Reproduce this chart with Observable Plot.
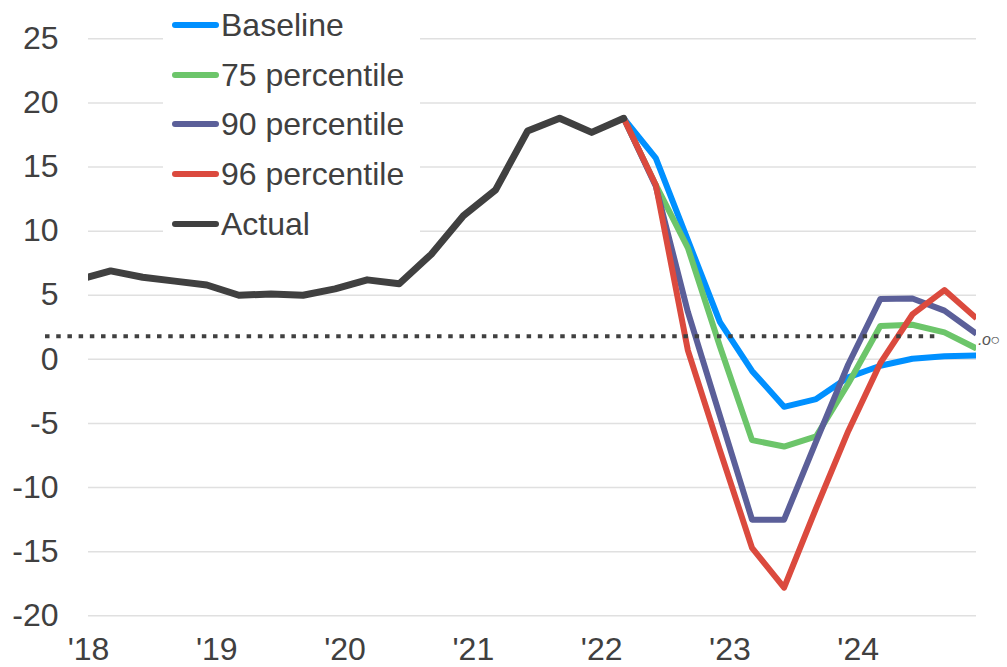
<!DOCTYPE html>
<html><head><meta charset="utf-8">
<script src="https://cdn.jsdelivr.net/npm/d3@7"></script>
<script src="https://cdn.jsdelivr.net/npm/@observablehq/plot@0.6"></script>
<style>
html,body{margin:0;padding:0;background:#fff;}
#wrap{position:relative;width:1007px;height:667px;font-family:"Liberation Sans",Arial,sans-serif;}
#wrap svg{position:absolute;left:0;top:0;}
#legend{position:absolute;left:163px;top:0;width:257px;height:246px;background:#fff;}
.item{position:absolute;left:9px;height:40px;display:flex;align-items:center;font-size:32px;color:#404040;white-space:nowrap;}
.sw{width:47px;height:6px;border-radius:3px;margin-right:2px;flex:none;}
#glyph{position:absolute;left:978px;top:331px;font-size:16px;line-height:18px;letter-spacing:-0.5px;color:#555;font-style:italic;white-space:nowrap;}
</style></head><body><div id="wrap"></div>
<script>
// ---- data ----
const actualQuarters = ["2017Q4","2018Q1","2018Q2","2018Q3","2018Q4","2019Q1","2019Q2","2019Q3","2019Q4",
  "2020Q1","2020Q2","2020Q3","2020Q4","2021Q1","2021Q2","2021Q3","2021Q4","2022Q1"];
const actualValues = [6.2, 6.9, 6.4, 6.1, 5.8, 5.0, 5.1, 5.0, 5.5, 6.2, 5.9, 8.2, 11.2, 13.2, 17.8, 18.8, 17.7, 18.8];

const forecastQuarters = ["2022Q1","2022Q2","2022Q3","2022Q4","2023Q1","2023Q2","2023Q3","2023Q4",
  "2024Q1","2024Q2","2024Q3","2024Q4"];
const baseline = [18.8, 15.7, 9.3, 2.9, -0.9, -3.7, -3.1, -1.4, -0.5, 0.05, 0.25, 0.3];
const pct75    = [18.8, 13.6, 8.7, 1.0, -6.3, -6.8, -6.0, -1.9, 2.6, 2.7, 2.1, 0.85];
const pct90    = [18.8, 13.5, 3.7, -4.4, -12.5, -12.5, -6.4, -0.4, 4.7, 4.75, 3.8, 2.0];
const pct96    = [18.8, 13.6, 0.7, -7.1, -14.7, -17.8, -11.6, -5.6, -0.3, 3.5, 5.4, 3.2];

const seriesNames = ["Baseline", "75 percentile", "90 percentile", "96 percentile", "Actual"];
const seriesColors = ["#0090ff", "#6cc56a", "#5b5f99", "#db4a3e", "#404040"];

const targetValue = 1.8;
const targetStart = 2017.665;
const targetEnd = 2024.642;

const yearTicks = [2018, 2019, 2020, 2021, 2022, 2023, 2024];
const yTicks = [-20, -15, -10, -5, 0, 5, 10, 15, 20, 25];

// ---- build ----
const quarterTime = q => +q.slice(0, 4) + (+q.slice(5) - 1) / 4 + 0.1725;
const actual = actualQuarters.map((q, i) => ({t: quarterTime(q), v: actualValues[i]}));
const fc = [baseline, pct75, pct90, pct96].map(arr =>
  forecastQuarters.map((q, i) => ({t: quarterTime(q), v: arr[i]})));
const target = [{v: targetValue, x1: targetStart, x2: targetEnd}];

const lineOpts = (i) => ({x: "t", y: "v", stroke: seriesColors[i], strokeWidth: 6,
  strokeLinejoin: "round", strokeLinecap: "butt", clip: true});

const chart = Plot.plot({
  width: 1007, height: 667,
  marginLeft: 88, marginRight: 31, marginTop: 38.3, marginBottom: 51.7,
  style: {fontFamily: "'Liberation Sans', Arial, sans-serif", fontSize: "32px", color: "#404040", background: "transparent", overflow: "visible"},
  x: {domain: [2018, 2024.9225], ticks: yearTicks, tickFormat: d => "'" + String(d).slice(2), tickSize: 0, tickPadding: 21, label: null},
  y: {domain: [-20, 25], ticks: yTicks, tickFormat: d => String(d), tickSize: 0, tickPadding: 30, label: null},
  marks: [
    Plot.ruleY(yTicks, {stroke: "#e0e0e0", strokeWidth: 1.5}),
    Plot.line(fc[0], lineOpts(0)),
    Plot.line(fc[1], lineOpts(1)),
    Plot.line(fc[2], lineOpts(2)),
    Plot.line(fc[3], lineOpts(3)),
    Plot.ruleY(target, {y: "v", x1: "x1", x2: "x2", stroke: "#404040", strokeWidth: 4, strokeDasharray: "4.5,6.7"}),
    Plot.line(actual, {x: "t", y: "v", stroke: seriesColors[4], strokeWidth: 7, strokeLinejoin: "round", strokeLinecap: "round", clip: true})
  ]
});

const wrap = document.getElementById("wrap");
wrap.appendChild(chart);

const legend = document.createElement("div");
legend.id = "legend";
const centers = [25, 75, 124, 174, 224];
seriesNames.forEach((name, i) => {
  const it = document.createElement("div");
  it.className = "item";
  it.style.top = (centers[i] - 20) + "px";
  const sw = document.createElement("span");
  sw.className = "sw";
  sw.style.background = seriesColors[i];
  const tx = document.createElement("span");
  tx.textContent = name;
  it.appendChild(sw); it.appendChild(tx);
  legend.appendChild(it);
});
wrap.appendChild(legend);

const g = document.createElement("div");
g.id = "glyph";
g.textContent = ".o○";
wrap.appendChild(g);
</script></body></html>
